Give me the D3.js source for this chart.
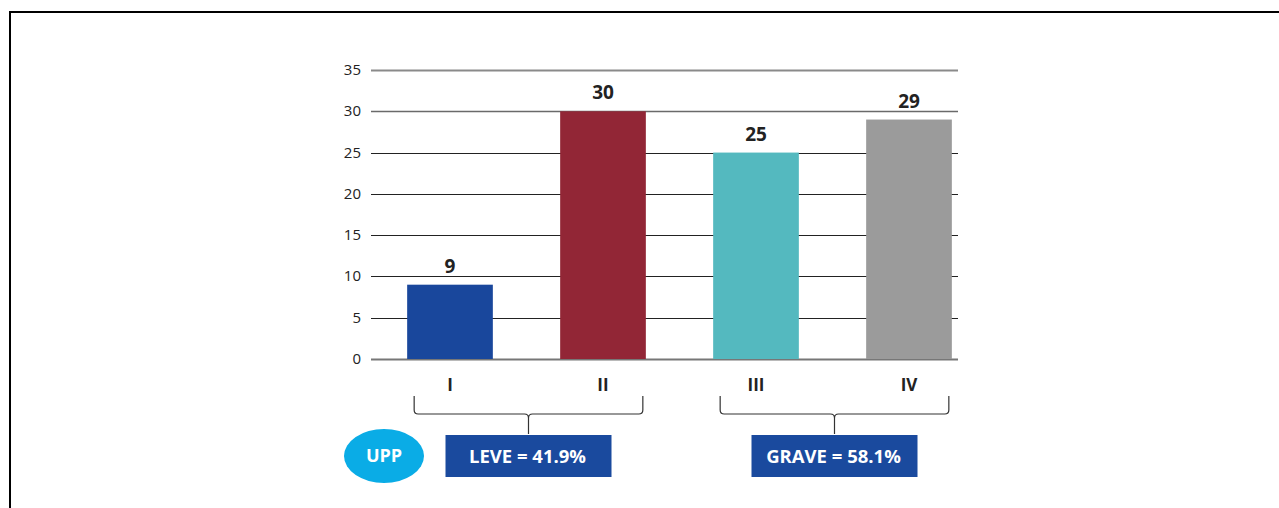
<!DOCTYPE html>
<html>
<head>
<meta charset="utf-8">
<script src="https://cdn.jsdelivr.net/npm/d3@7"></script>
<style>
  body { margin: 0; background: #fff; }
  svg text { font-family: "Open Sans", "Liberation Sans", sans-serif; }
</style>
</head>
<body>
<svg id="chart" width="1279" height="508"></svg>
<script>
// data
const categories = ["I", "II", "III", "IV"];
const values = [9, 30, 25, 29];
const barColors = ["#19479c", "#922636", "#54b9bf", "#9b9b9b"];
const yTicks = [0, 5, 10, 15, 20, 25, 30, 35];
const groups = [
  { label: "LEVE = 41.9%", from: "I", to: "II" },
  { label: "GRAVE = 58.1%", from: "III", to: "IV" }
];
const badge = "UPP";

const svg = d3.select("#chart");

// frame (top + left rule)
svg.append("line")
  .attr("x1", 10).attr("x2", 1279).attr("y1", 12).attr("y2", 12)
  .attr("stroke", "#000").attr("stroke-width", 2)
svg.append("line")
  .attr("x1", 10).attr("x2", 10).attr("y1", 11).attr("y2", 508)
  .attr("stroke", "#000").attr("stroke-width", 2)

let x = d3.scaleBand()
  .domain(categories)
  .range([373.5, 985.5])
  .paddingInner(0.44)
  .paddingOuter(0.22)

let y = d3.scaleLinear()
  .domain([0, 35])
  .range([359, 70])

const gridLeft = 371, gridRight = 958;

// grid
let grid = svg.append("g").attr("class", "grid")
grid.selectAll("line")
  .data(yTicks)
  .enter()
  .append("line")
  .attr("x1", gridLeft)
  .attr("x2", gridRight)
  .attr("y1", d => Math.round(y(d)) + 0.5)
  .attr("y2", d => Math.round(y(d)) + 0.5)
  .attr("stroke", d => d == 35 ? "#8a8a8a" : d == 30 ? "#6a6a6a" : d == 0 ? "#777" : "#222")
  .attr("stroke-width", d => (d == 35 || d == 0) ? 2 : d == 30 ? 1.6 : 1.1)

grid.selectAll("text")
  .data(yTicks)
  .enter()
  .append("text")
  .attr("x", 361)
  .attr("y", d => y(d) + 5)
  .style("text-anchor", "end")
  .style("font-size", "15px")
  .style("fill", "#222")
  .text(d => d)

// bars
svg.selectAll("rect.bar")
  .data(values)
  .enter()
  .append("rect")
  .attr("class", "bar")
  .attr("x", (d, i) => x(categories[i]))
  .attr("width", x.bandwidth())
  .attr("y", d => y(d))
  .attr("height", d => y(0) - y(d))
  .attr("fill", (d, i) => barColors[i])

svg.selectAll("text.val")
  .data(values)
  .enter()
  .append("text")
  .attr("class", "val")
  .attr("x", (d, i) => x(categories[i]) + x.bandwidth() / 2)
  .attr("y", d => y(d) - 12)
  .style("text-anchor", "middle")
  .style("font-size", "19px")
  .style("font-weight", "bold")
  .style("fill", "#222")
  .text(d => d)

svg.selectAll("text.cat")
  .data(categories)
  .enter()
  .append("text")
  .attr("class", "cat")
  .attr("x", d => x(d) + x.bandwidth() / 2)
  .attr("y", 391)
  .style("text-anchor", "middle")
  .style("font-size", "17px")
  .style("font-weight", "bold")
  .style("fill", "#222")
  .text(d => d)

// braces + boxes
groups.forEach(function(g) {
  let x0 = x(g.from) + 7
  let x1 = x(g.to) + x.bandwidth() - 3
  let xm = (x0 + x1) / 2
  let yt = 396, yb = 414, r = 4
  let p = "M" + x0 + "," + yt + " L" + x0 + "," + (yb - r) + " Q" + x0 + "," + yb + " " + (x0 + r) + "," + yb
    + " L" + (xm - r) + "," + yb + " Q" + xm + "," + yb + " " + xm + "," + (yb + r) + " L" + xm + "," + 434
    + " M" + xm + "," + (yb + r) + " Q" + xm + "," + yb + " " + (xm + r) + "," + yb
    + " L" + (x1 - r) + "," + yb + " Q" + x1 + "," + yb + " " + x1 + "," + (yb - r) + " L" + x1 + "," + yt
  svg.append("path")
    .attr("d", p)
    .attr("fill", "none")
    .attr("stroke", "#333")
    .attr("stroke-width", 1.2)

  svg.append("rect")
    .attr("x", xm - 83)
    .attr("y", 435)
    .attr("width", 166)
    .attr("height", 42)
    .attr("fill", "#1a4a9e")

  svg.append("text")
    .attr("x", xm - 1)
    .attr("y", 463)
    .style("text-anchor", "middle")
    .style("font-size", "18.5px")
    .style("font-weight", "bold")
    .style("fill", "#fff")
    .text(g.label)
})

svg.append("ellipse")
  .attr("cx", 384).attr("cy", 456).attr("rx", 40).attr("ry", 27)
  .attr("fill", "#0aace6")

svg.append("text")
  .attr("x", 384)
  .attr("y", 462)
  .style("text-anchor", "middle")
  .style("font-size", "18px")
  .style("font-weight", "bold")
  .style("fill", "#fff")
  .text(badge)
</script>
</body>
</html>
